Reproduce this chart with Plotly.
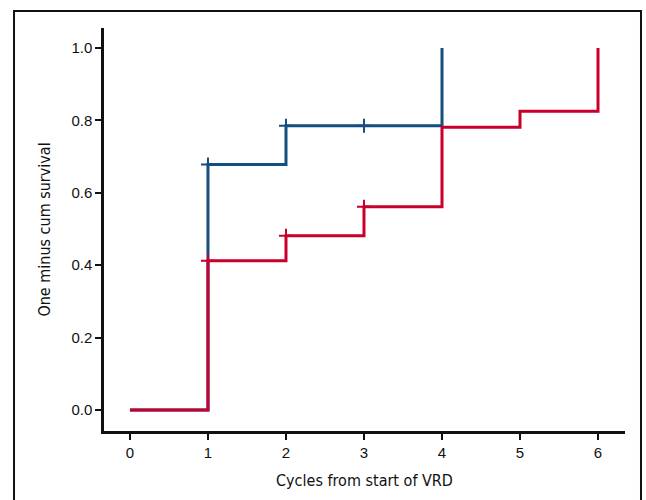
import plotly.graph_objects as go

# Data
blue_t = [0, 1, 2, 4]
blue_y = [0.0, 0.678, 0.785, 1.0]
blue_cens_t = [1, 2, 3]
blue_cens_y = [0.678, 0.785, 0.785]

red_t = [0, 1, 2, 3, 4, 5, 6]
red_y = [0.0, 0.412, 0.481, 0.561, 0.781, 0.825, 1.0]
red_cens_t = [1, 2, 3]
red_cens_y = [0.412, 0.481, 0.561]

x_ticks = [0, 1, 2, 3, 4, 5, 6]
y_ticks = [0.0, 0.2, 0.4, 0.6, 0.8, 1.0]
y_tick_text = ["0.0", "0.2", "0.4", "0.6", "0.8", "1.0"]

BLUE = "#154e80"
RED = "#c8002b"

fig = go.Figure()
fig.add_trace(go.Scatter(x=blue_t, y=blue_y, mode="lines", line=dict(shape="hv", color=BLUE, width=3),
                         showlegend=False, hoverinfo="skip"))
fig.add_trace(go.Scatter(x=blue_cens_t, y=blue_cens_y, mode="markers",
                         marker=dict(symbol="cross-thin", size=10, line=dict(color=BLUE, width=2)),
                         showlegend=False, hoverinfo="skip"))
fig.add_trace(go.Scatter(x=red_t, y=red_y, mode="lines", line=dict(shape="hv", color=RED, width=3),
                         showlegend=False, hoverinfo="skip"))
fig.add_trace(go.Scatter(x=red_cens_t, y=red_cens_y, mode="markers",
                         marker=dict(symbol="cross-thin", size=10, line=dict(color=RED, width=2)),
                         showlegend=False, hoverinfo="skip"))

title_font = dict(family="DejaVu Sans Condensed, Arial Narrow, sans-serif", size=16, color="#111")
tick_font = dict(family="Liberation Sans, Arial, sans-serif", size=15, color="#111")

fig.update_layout(
    width=646, height=500,
    margin=dict(l=104, r=21, t=28, b=69),
    paper_bgcolor="white", plot_bgcolor="white",
    xaxis=dict(range=[-0.333, 6.346], tickvals=x_ticks, ticks="outside", ticklen=6, tickwidth=2,
               tickcolor="#111", showline=True, linewidth=2.5, linecolor="#111", showgrid=False,
               zeroline=False, tickfont=tick_font,
               title=dict(text="Cycles from start of VRD", font=title_font, standoff=16)),
    yaxis=dict(range=[-0.058, 1.055], tickvals=y_ticks, ticktext=y_tick_text, ticks="outside",
               ticklen=6, tickwidth=2, tickcolor="#111", showline=True, linewidth=2.5, linecolor="#111",
               showgrid=False, zeroline=False, tickfont=tick_font,
               title=dict(text="One minus cum survival", font=title_font, standoff=17)),
    shapes=[
        dict(type="path", xref="paper", yref="paper",
             path="M -0.1727 -0.25 L -0.1727 1.042 L 1.0307 1.042 L 1.0307 -0.25",
             line=dict(color="#111", width=2), layer="above"),
    ],
)

fig.write_html("out.html", config={"displayModeBar": False},
               post_script="document.body.style.margin='0';")
